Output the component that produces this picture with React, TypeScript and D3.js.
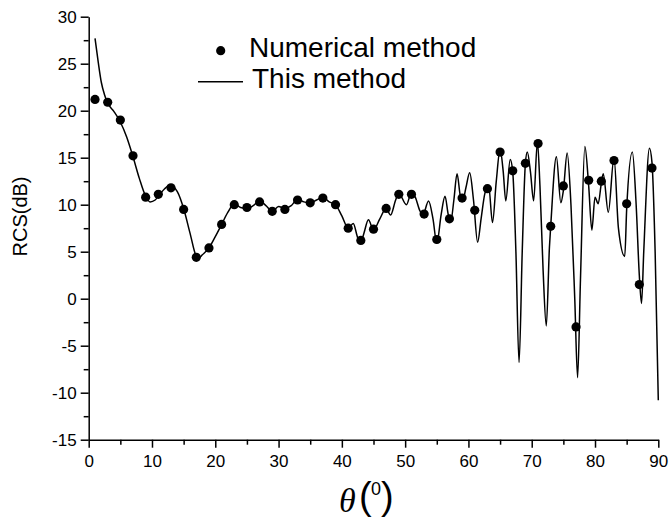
import React, { useRef, useEffect } from 'react';
import * as d3 from "d3";

// constants
const width = 671;
const height = 522;
const plot = { left: 88.7, right: 658.3, top: 16.7, bottom: 439.7 };

// numerical method (dots)
const numTheta = [1, 3, 5, 7, 9, 11, 13, 15, 17, 19, 21, 23, 25, 27, 29, 31, 33, 35, 37, 39, 41, 43, 45,
  47, 49, 51, 53, 55, 57, 59, 61, 63, 65, 67, 69, 71, 73, 75, 77, 79, 81, 83, 85, 87, 89];
const numRcs = [21.2, 20.9, 19.0, 15.2, 10.8, 11.1, 11.8, 9.5, 4.4, 5.4, 7.9, 10.0, 9.7, 10.3, 9.3, 9.5,
  10.5, 10.2, 10.7, 10.0, 7.5, 6.2, 7.4, 9.6, 11.1, 11.1, 9.0, 6.3, 8.5, 10.7, 9.4, 11.7, 15.6, 13.6,
  14.4, 16.5, 7.7, 12.0, -3.0, 12.6, 12.5, 14.7, 10.1, 1.5, 13.9];

// this method (line)
const lineTheta = [1, 1.5, 2, 2.5, 3, 4, 5, 6, 7, 8, 9, 9.7, 10.5, 11, 12, 12.8, 14, 15, 16, 17, 17.3,
  18, 19, 20, 21, 22, 23, 24, 25, 26, 27, 28, 29, 30, 31, 32, 33, 34, 35, 36, 37, 38, 39, 40, 41,
  41.8, 42.5, 43, 43.5, 44.2, 45, 46, 47, 47.7, 48.5, 49, 50.2, 51, 51.6, 52.3, 52.8, 53.7, 54.4, 55,
  55.7, 56.3, 56.8, 57.2, 57.7, 58.2, 58.7, 59.1, 59.6, 60.2, 60.8, 61.45, 62, 62.6, 63.2, 63.8,
  64.4, 65, 65.5, 65.9, 66.6, 67, 67.5, 68, 68.5, 69, 69.3, 69.8, 70.3, 70.9, 71.3, 71.8, 72.3,
  72.8, 73, 73.9, 74.6, 75, 75.6, 76.2, 76.8, 77.25, 77.7, 78.4, 79, 79.5, 80, 80.5, 81, 81.3,
  82.1, 83, 83.7, 84.7, 85, 85.9, 86.5, 87, 87.35, 87.7, 88.6, 89, 89.5, 90];
const lineRcs = [27.7, 25.2, 23.0, 21.7, 20.8, 19.9, 18.8, 17.2, 15.1, 12.8, 10.9, 10.3, 10.5, 10.9,
  11.7, 12.1, 11.4, 9.6, 7.0, 4.5, 4.3,
  4.7, 5.4, 6.6, 7.9, 9.2, 10.1, 9.7, 9.6, 9.9, 10.4, 9.9, 9.3, 9.8, 9.6, 9.9, 10.6, 10.3, 10.2,
  10.5, 10.8, 10.3, 10.0, 8.8, 7.5,
  8.0, 6.5, 6.0, 7.0, 8.4, 7.3, 8.5, 9.6, 8.9, 10.5, 11.2, 10.0, 11.3, 10.8, 9.4, 8.9, 10.4, 8.5, 5.9,
  9.0, 10.9, 9.0, 8.2, 10.5, 13.3, 11.0, 10.4, 11.8, 13.4, 10.5, 6.0, 8.5, 11.2, 12.0, 8.1,
  12.5, 15.9, 13.5, 10.4, 14.8, 13.5, 5.0, -6.8, 5.0, 14.4, 15.6, 13.5, 10.4, 16.7, 12.0, 3.0, -2.9,
  5.5, 7.7, 15.1, 10.2, 11.5, 15.5, 10.0, 0.0, -8.4, 2.0, 16.2, 12.0, 7.3, 10.8, 10.1, 12.3, 13.3,
  9.2, 15.0, 7.5, 4.5, 9.5, 15.6, 10.0, 2.5, -0.5, 5.0, 16.0, 14.5, 5.0, -10.8];

// tick values
const xTicks = [0, 10, 20, 30, 40, 50, 60, 70, 80, 90];
const xMinor = [5, 15, 25, 35, 45, 55, 65, 75, 85];
const yTicks = [-15, -10, -5, 0, 5, 10, 15, 20, 25, 30];
const yMinor = [-12.5, -7.5, -2.5, 2.5, 7.5, 12.5, 17.5, 22.5, 27.5];

const sans = '"Liberation Sans", Arial, sans-serif';

const App = () => {
  const xScale = d3.scaleLinear().domain([0, 90]).range([plot.left, plot.right]);
  const yScale = d3.scaleLinear().domain([-15, 30]).range([plot.bottom, plot.top]);

  const xAxisRef = useRef<SVGGElement>(null);
  const xMinorRef = useRef<SVGGElement>(null);
  const yAxisRef = useRef<SVGGElement>(null);
  const yMinorRef = useRef<SVGGElement>(null);

  const lineGen = d3.line<number>()
    .x((d, i) => xScale(lineTheta[i]))
    .y(d => yScale(d))
    .curve(d3.curveMonotoneX);

  useEffect(() => {
    const style = (g: any) => {
      g.selectAll("path, line").attr("stroke", "#000").attr("stroke-width", 1.5);
      g.selectAll("text").attr("font-family", sans).attr("font-size", 17).attr("fill", "#000");
      g.attr("font-family", null).attr("font-size", null);
    };
    d3.select(xAxisRef.current)
      .call(d3.axisBottom(xScale).tickValues(xTicks).tickSize(8).tickSizeOuter(0).tickPadding(7)
        .tickFormat(d => String(d)) as any)
      .call(style);
    d3.select(xMinorRef.current)
      .call(d3.axisBottom(xScale).tickValues(xMinor).tickSize(5).tickFormat(() => "") as any)
      .call(g => g.select(".domain").remove())
      .call(style);
    d3.select(yAxisRef.current)
      .call(d3.axisLeft(yScale).tickValues(yTicks).tickSize(8).tickSizeOuter(0).tickPadding(4)
        .tickFormat(d => String(d)) as any)
      .call(style);
    d3.select(yMinorRef.current)
      .call(d3.axisLeft(yScale).tickValues(yMinor).tickSize(5).tickFormat(() => "") as any)
      .call(g => g.select(".domain").remove())
      .call(style);
  }, []);

  return (
    <svg width={width} height={height}
      style={{ position: 'absolute', left: 0, top: 0, background: '#fff' }}>
      <path d={lineGen(lineRcs) || ''} fill="none" stroke="#000" strokeWidth={1.5} />
      {numRcs.map((v, i) => (
        <circle key={i} cx={xScale(numTheta[i])} cy={yScale(v)} r={4.6} fill="#000" />
      ))}
      <g ref={xAxisRef} transform={`translate(0,${plot.bottom})`} />
      <g ref={xMinorRef} transform={`translate(0,${plot.bottom})`} />
      <g ref={yAxisRef} transform={`translate(${plot.left},0)`} />
      <g ref={yMinorRef} transform={`translate(${plot.left},0)`} />

      {/* legend */}
      <circle cx={220.7} cy={50.7} r={4.6} fill="#000" />
      <text x={249} y={57} fontFamily={sans} fontSize={28}>Numerical method</text>
      <line x1={198} x2={243} y1={81.7} y2={81.7} stroke="#000" strokeWidth={1.5} />
      <text x={252} y={88.3} fontFamily={sans} fontSize={28}>This method</text>

      {/* axis titles */}
      <text transform="translate(27,216.5) rotate(-90)" textAnchor="middle"
        fontFamily={sans} fontSize={20}>RCS(dB)</text>
      <text x={339} y={512} fontFamily='"Liberation Serif", serif' fontStyle="italic" fontSize={34}>θ</text>
      <text x={359} y={509} fontFamily={sans} fontSize={38}>(</text>
      <text x={371} y={495} fontFamily={sans} fontSize={18}>0</text>
      <text x={381} y={509} fontFamily={sans} fontSize={38}>)</text>
    </svg>
  );
};

export default App;
